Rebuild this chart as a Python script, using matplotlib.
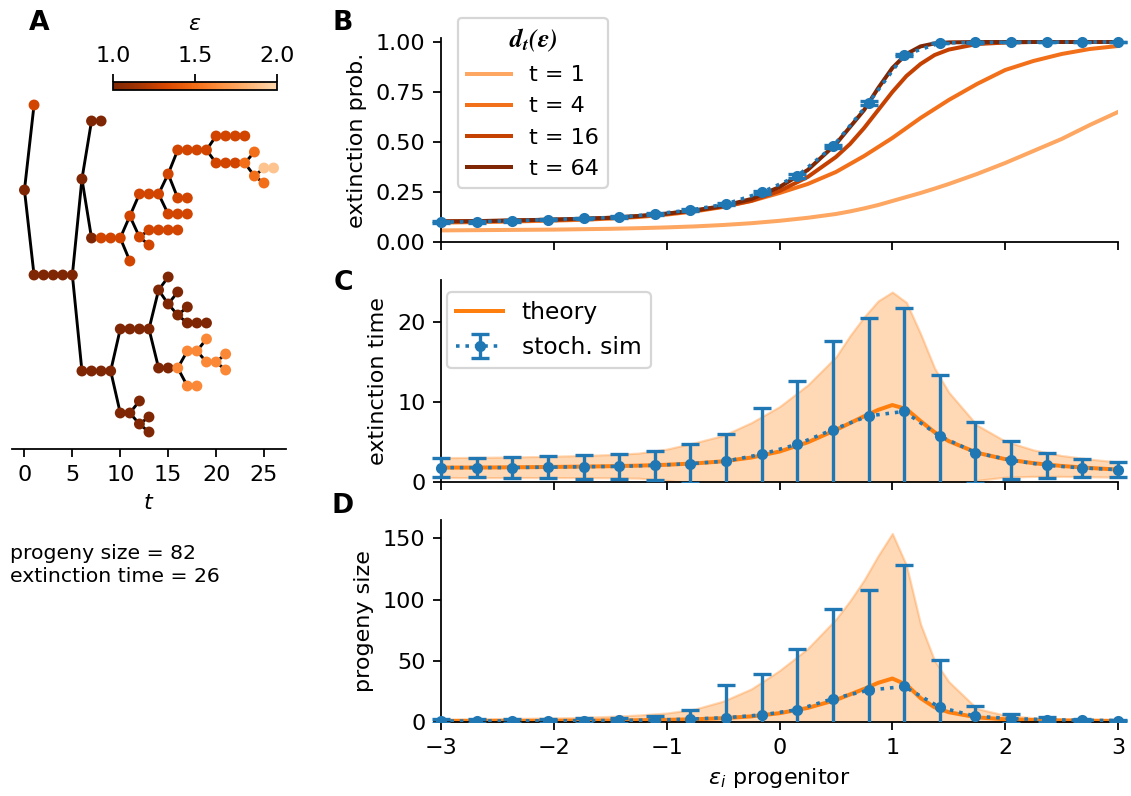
import matplotlib
import matplotlib.pyplot as plt
import numpy as np
from matplotlib.cm import ScalarMappable
from matplotlib.colors import LinearSegmentedColormap, Normalize
from matplotlib.font_manager import FontProperties
from matplotlib.transforms import Bbox, TransformedBbox

matplotlib.use("Agg")

DPI = 160
W_PX, H_PX = 1131, 796

# --- panel A: one lineage tree (segments of consecutive nodes) ---
seg_t0 = [0, 1, 1, 6, 7, 7, 8, 11, 11, 12, 13, 13, 12, 15, 15, 16, 16, 20, 20, 23, 24, 24, 25, 25,
          6, 10, 14, 15, 15, 16, 16, 17, 17, 14, 16, 17, 17, 19, 19, 21, 21, 10, 12, 12, 13, 13]
seg_len = [1, 1, 5, 1, 2, 1, 3, 1, 1, 1, 4, 1, 3, 3, 1, 2, 4, 4, 3, 1, 1, 1, 2, 1,
           4, 4, 1, 1, 1, 1, 1, 1, 3, 2, 1, 2, 2, 1, 2, 1, 1, 2, 1, 1, 1, 1]
seg_y = [190, 105, 275, 179, 121, 238, 238, 261, 216, 237, 230, 245, 194, 214, 174, 198, 150, 136,
         163, 163, 152, 176, 168, 183,
         371, 329, 290, 277, 304, 292, 315, 307, 323, 368, 368, 386, 351, 339, 362, 354, 370,
         413, 401, 424, 417, 432]
seg_eps = [1.0, 1.3, 1.0, 1.0, 1.0, 1.0, 1.3, 1.3, 1.3, 1.3, 1.3, 1.3, 1.3, 1.3, 1.3, 1.3, 1.3, 1.3,
           1.3, 1.5, 1.5, 1.5, 1.9, 1.5,
           1.0, 1.0, 1.0, 1.0, 1.0, 1.0, 1.0, 1.0, 1.0, 1.0, 1.62, 1.62, 1.62, 1.62, 1.62, 1.62, 1.62,
           1.0, 1.0, 1.0, 1.0, 1.0]
seg_parent = [-1, 0, 0, 2, 3, 3, 5, 6, 6, 8, 9, 9, 8, 12, 12, 14, 14, 16, 16, 18, 19, 19, 21, 21,
              2, 24, 25, 26, 26, 28, 28, 30, 30, 25, 33, 34, 34, 36, 36, 38, 38, 24, 41, 41, 43, 43]
progeny_size = 82
extinction_time = 26

# --- theory curves (panels B-D) ---
eps_grid = [-3, -2.75, -2.5, -2.25, -2, -1.75, -1.5, -1.25, -1, -0.75, -0.5, -0.25, 0, 0.25, 0.5,
            0.625, 0.75, 0.875, 1.0, 1.125, 1.25, 1.375, 1.5, 1.75, 2.0, 2.25, 2.5, 2.75, 3.0]
d_t1 = [0.058, 0.059, 0.060, 0.061, 0.062, 0.064, 0.066, 0.069, 0.073, 0.078, 0.085, 0.094, 0.106,
        0.121, 0.140, 0.153, 0.168, 0.185, 0.205, 0.225, 0.245, 0.267, 0.290, 0.340, 0.395, 0.455,
        0.515, 0.585, 0.650]
d_t4 = [0.097, 0.099, 0.101, 0.104, 0.107, 0.111, 0.117, 0.125, 0.137, 0.153, 0.175, 0.205, 0.245,
        0.290, 0.350, 0.390, 0.430, 0.475, 0.520, 0.570, 0.620, 0.665, 0.710, 0.790, 0.860, 0.905,
        0.940, 0.965, 0.980]
d_t16 = [0.103, 0.104, 0.106, 0.109, 0.112, 0.116, 0.121, 0.129, 0.141, 0.157, 0.177, 0.206, 0.255,
         0.325, 0.425, 0.490, 0.570, 0.660, 0.750, 0.830, 0.890, 0.935, 0.962, 0.990, 0.997, 1.0,
         1.0, 1.0, 1.0]
d_t64 = [0.103, 0.104, 0.106, 0.109, 0.112, 0.116, 0.121, 0.130, 0.142, 0.158, 0.180, 0.215, 0.275,
         0.360, 0.490, 0.575, 0.660, 0.770, 0.870, 0.940, 0.978, 0.993, 0.998, 1.0, 1.0, 1.0, 1.0,
         1.0, 1.0]
ext_time_theory = [1.80, 1.80, 1.82, 1.85, 1.88, 1.92, 1.97, 2.04, 2.15, 2.32, 2.58, 3.05, 3.80, 4.95,
                   6.50, 7.35, 8.20, 9.00, 9.60, 9.10, 7.60, 6.20, 5.10, 3.65, 2.85, 2.35, 2.00, 1.75,
                   1.55]
ext_time_std = [1.24, 1.26, 1.28, 1.30, 1.34, 1.38, 1.45, 1.56, 1.95, 2.58, 3.22, 4.35, 5.60, 7.15,
                9.10, 10.9, 12.4, 13.6, 14.1, 13.3, 10.9, 8.0, 6.1, 3.45, 2.25, 1.65, 1.30, 1.10, 0.95]
progeny_theory = [0.8, 0.85, 0.9, 0.95, 1.0, 1.1, 1.25, 1.45, 1.75, 2.25, 3.1, 4.6, 7.2, 11.5, 18.0,
                  22.5, 27.0, 32.0, 35.5, 30.5, 19.5, 12.0, 8.0, 3.8, 2.2, 1.6, 1.25, 1.05, 0.9]
progeny_std = [1.6, 1.75, 1.9, 2.05, 2.3, 2.7, 3.35, 4.25, 5.55, 8.25, 13.9, 22.4, 34.8, 48.5, 66.0,
               76.5, 89.0, 104.0, 118.5, 97.5, 60.5, 38.0, 25.0, 7.2, 3.3, 1.9, 1.35, 1.05, 0.9]

# --- stochastic simulations ---
eps_sim = [-3.0, -2.684, -2.368, -2.053, -1.737, -1.421, -1.105, -0.789, -0.474, -0.158, 0.158,
           0.474, 0.789, 1.105, 1.421, 1.737, 2.053, 2.368, 2.684, 3.0]
ext_prob_sim = [0.100, 0.101, 0.106, 0.112, 0.118, 0.124, 0.140, 0.160, 0.190, 0.248, 0.330, 0.478,
                0.695, 0.935, 0.995, 0.998, 0.999, 0.999, 1.0, 1.0]
ext_prob_err = [0.004, 0.004, 0.004, 0.004, 0.004, 0.004, 0.005, 0.005, 0.006, 0.007, 0.008, 0.009,
                0.009, 0.006, 0.002, 0.001, 0.001, 0.001, 0.0, 0.0]
ext_time_sim = [1.79, 1.79, 1.80, 1.85, 1.90, 1.95, 2.08, 2.29, 2.60, 3.46, 4.71, 6.54, 8.25, 8.80,
                5.71, 3.67, 2.71, 2.08, 1.75, 1.54]
ext_time_err = [1.21, 1.21, 1.30, 1.40, 1.50, 1.55, 1.82, 2.41, 3.36, 5.79, 7.89, 11.06, 12.25,
                12.95, 7.59, 3.83, 2.39, 1.59, 1.15, 0.96]
progeny_sim = [0.8, 0.8, 0.9, 1.0, 1.1, 1.3, 1.6, 2.4, 3.5, 5.8, 10.0, 19.0, 26.0, 29.0, 12.0, 4.7,
               2.8, 1.9, 1.4, 1.2]
progeny_err = [1.6, 1.6, 1.6, 1.7, 1.8, 2.0, 3.4, 7.8, 26.5, 33.0, 49.6, 73.0, 81.6, 99.4, 39.0, 8.4,
               4.0, 2.2, 1.4, 0.7]

t_labels = ["t = 1", "t = 4", "t = 16", "t = 64"]
t_colors = plt.cm.Oranges(np.linspace(0.4, 1.0, 4))
eps_cmap = LinearSegmentedColormap.from_list("eps", plt.cm.Oranges_r(np.linspace(0, 0.78, 256)))


def frac(x0, y0, x1, y1):
    """pixel box (left, top, right, bottom) -> figure fraction rect"""
    return [x0 / W_PX, 1 - y1 / H_PX, (x1 - x0) / W_PX, (y1 - y0) / H_PX]


def loose_clip(ax, container):
    # let caps / markers at the x limits poke out sideways, as in the original
    box = TransformedBbox(Bbox([[-0.03, 0.0], [1.03, 1.06]]), ax.transAxes)
    for art in container.get_children():
        art.set_clip_box(box)


def sim_errorbar(ax, y, err, label=None):
    cont = ax.errorbar(eps_sim, y, yerr=err, fmt="o:", color="C0", ms=4, lw=1.6,
                       elinewidth=1.5, capsize=4, capthick=1.5, label=label, zorder=4)
    loose_clip(ax, cont)
    return cont


def clean(ax):
    ax.spines["top"].set_visible(False)
    ax.spines["right"].set_visible(False)


fig = plt.figure(figsize=(W_PX / DPI, H_PX / DPI), dpi=DPI)

# ---------------- A ----------------
axA = fig.add_axes(frac(12, 95, 286, 449))
node_t, node_y, node_e = [], [], []
for i in range(len(seg_t0)):
    t0, n, y = seg_t0[i], seg_len[i], seg_y[i]
    p = seg_parent[i]
    if p >= 0:
        axA.plot([seg_t0[p] + seg_len[p] - 1, t0], [seg_y[p], y], color="k", lw=1.3, zorder=1)
    if n > 1:
        axA.plot([t0, t0 + n - 1], [y, y], color="k", lw=1.3, zorder=1)
    for k in range(n):
        node_t.append(t0 + k)
        node_y.append(y)
        node_e.append(seg_eps[i])
axA.scatter(node_t, node_y, c=node_e, cmap=eps_cmap, vmin=1, vmax=2, s=24, linewidths=0, zorder=2)
axA.set_ylim(449, 95)
axA.set_xticks([0, 5, 10, 15, 20, 25])
axA.set_yticks([])
axA.set_xlabel(r"$t$")
for s in ("top", "right", "left"):
    axA.spines[s].set_visible(False)

cax = fig.add_axes(frac(113, 81.5, 277, 89.5))
cb = fig.colorbar(ScalarMappable(Normalize(1, 2), eps_cmap), cax=cax, orientation="horizontal")
cb.set_ticks([1.0, 1.5, 2.0])
cax.xaxis.set_ticks_position("top")
cax.xaxis.set_label_position("top")
cb.set_label(r"$\varepsilon$", labelpad=7)

fig.text(10 / W_PX, 1 - 565 / H_PX,
         f"progeny size = {progeny_size}\nextinction time = {extinction_time}",
         ha="left", va="center", fontsize=9.2, linespacing=1.3)

# ---------------- B ----------------
axB = fig.add_axes(frac(441, 38, 1118, 242))
for d, lab, col in zip([d_t1, d_t4, d_t16, d_t64], t_labels, t_colors):
    axB.plot(eps_grid, d, color=col, lw=1.8, label=lab)
sim_errorbar(axB, ext_prob_sim, ext_prob_err)
axB.set_xlim(-3, 3)
axB.set_ylim(0, 1.02)
axB.set_yticks([0, 0.25, 0.5, 0.75, 1.0])
axB.set_ylabel("extinction prob.")
axB.tick_params(labelbottom=False)
clean(axB)
axB.legend(title=r"$\mathbfit{d_t(\epsilon)}$",
           title_fontproperties=FontProperties(size=11.5, math_fontfamily="stix"),
           loc="upper left", bbox_to_anchor=((458 - 441) / 677, (242 - 18) / 204), borderaxespad=0,
           fontsize=10)

# ---------------- C ----------------
axC = fig.add_axes(frac(441, 280, 1118, 482))
tm, ts = np.array(ext_time_theory), np.array(ext_time_std)
axC.fill_between(eps_grid, tm - ts, tm + ts, color="C1", alpha=0.3, lw=1)
axC.plot(eps_grid, tm, color="C1", lw=1.8, label="theory")
sim_errorbar(axC, ext_time_sim, ext_time_err, label="stoch. sim")
axC.set_xlim(-3, 3)
axC.set_ylim(0, 25.2)
axC.set_yticks([0, 10, 20])
axC.set_ylabel("extinction time")
axC.tick_params(labelbottom=False)
clean(axC)
axC.legend(loc="upper left", bbox_to_anchor=((447 - 441) / 677, (482 - 292) / 202), borderaxespad=0,
           fontsize=10.5)

# ---------------- D ----------------
axD = fig.add_axes(frac(441, 520, 1118, 722))
pm, ps = np.array(progeny_theory), np.array(progeny_std)
axD.fill_between(eps_grid, pm - ps, pm + ps, color="C1", alpha=0.3, lw=1)
axD.plot(eps_grid, pm, color="C1", lw=1.8)
sim_errorbar(axD, progeny_sim, progeny_err)
axD.set_xlim(-3, 3)
axD.set_ylim(0, 165)
axD.set_yticks([0, 50, 100, 150])
axD.set_ylabel("progeny size")
axD.set_xlabel(r"$\varepsilon_i$ progenitor")
clean(axD)

for lab, (x, y) in zip("ABCD", [(39, 23), (343, 23), (343, 283), (343, 506)]):
    fig.text(x / W_PX, 1 - y / H_PX, lab, fontsize=12, fontweight="bold", ha="center", va="center")

fig.savefig("out.png", dpi=DPI)
plt.close(fig)
